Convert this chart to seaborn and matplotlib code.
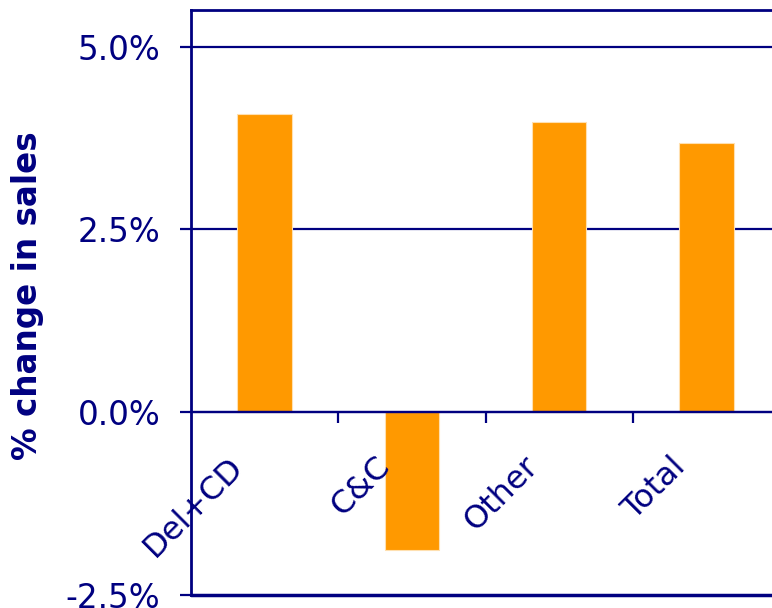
import matplotlib
matplotlib.use("Agg")
import matplotlib.pyplot as plt
import matplotlib.transforms as mtransforms
import seaborn as sns
import pandas as pd
from matplotlib.ticker import FuncFormatter, FixedLocator

# Sales change by channel (percent)
categories = ["Del+CD", "C&C", "Other", "Total"]
values = [4.08, -1.88, 3.97, 3.68]
y_ticks = [-2.5, 0.0, 2.5, 5.0]

NAVY = "#000080"
ORANGE = "#FF9900"

sns.set_theme(style="white")
plt.rcParams["font.family"] = ["DejaVu Sans"]

df = pd.DataFrame({"channel": categories, "change": values})

fig = plt.figure(figsize=(7.72, 6.08), dpi=100)
ax = fig.add_axes([191 / 772, 1 - 595 / 608, 589 / 772, 585 / 608])

# gridlines behind bars
for y in y_ticks[2:]:
    ax.axhline(y, color=NAVY, lw=1.6, zorder=0)

sns.barplot(data=df, x="channel", y="change", color=ORANGE, width=0.37,
            saturation=1, edgecolor="#FFE0B0", linewidth=0.8, ax=ax, zorder=2)

# zero axis line
ax.axhline(0, color=NAVY, lw=1.6, zorder=3)

ax.set_xlim(-0.5, 3.5)
ax.set_ylim(-2.5, 5.5)
ax.yaxis.set_major_locator(FixedLocator(y_ticks))
ax.yaxis.set_major_formatter(FuncFormatter(lambda v, p: f"{v:.1f}%"))

# category axis sits on the zero line
ax.spines["bottom"].set_position(("data", 0))
ax.spines["bottom"].set_color(NAVY)
ax.spines["bottom"].set_linewidth(1.6)
ax.xaxis.set_minor_locator(FixedLocator([0.5, 1.5, 2.5, 3.5]))
ax.tick_params(axis="x", which="major", length=0, labelbottom=False)
ax.tick_params(axis="x", which="minor", length=8, width=1.6, color=NAVY,
               direction="out", bottom=True)

# rotated category labels, drawn above the bars
offset = mtransforms.ScaledTranslation(-0.26, -0.50, fig.dpi_scale_trans)
for i, name in enumerate(categories):
    ax.text(i, 0, name, rotation=45, rotation_mode="anchor", ha="right",
            va="center", fontsize=23, color=NAVY, zorder=6,
            transform=ax.transData + offset)

# outer frame line at the bottom of the plot area
ax.axhline(-2.5, color=NAVY, lw=2.5, zorder=4, clip_on=False)

for side in ["left", "top"]:
    ax.spines[side].set_color(NAVY)
    ax.spines[side].set_linewidth(2.0)
ax.spines["right"].set_visible(False)

ax.tick_params(axis="y", which="major", left=True, length=8, width=1.6,
               color=NAVY, direction="out", pad=14, labelsize=23.5,
               labelcolor=NAVY)

ax.set_xlabel("")
ax.set_ylabel("% change in sales", fontsize=23.5, fontweight="bold", color=NAVY)
ax.yaxis.set_label_coords(-0.2496, 0.512)

fig.savefig("out.png", dpi=100)
